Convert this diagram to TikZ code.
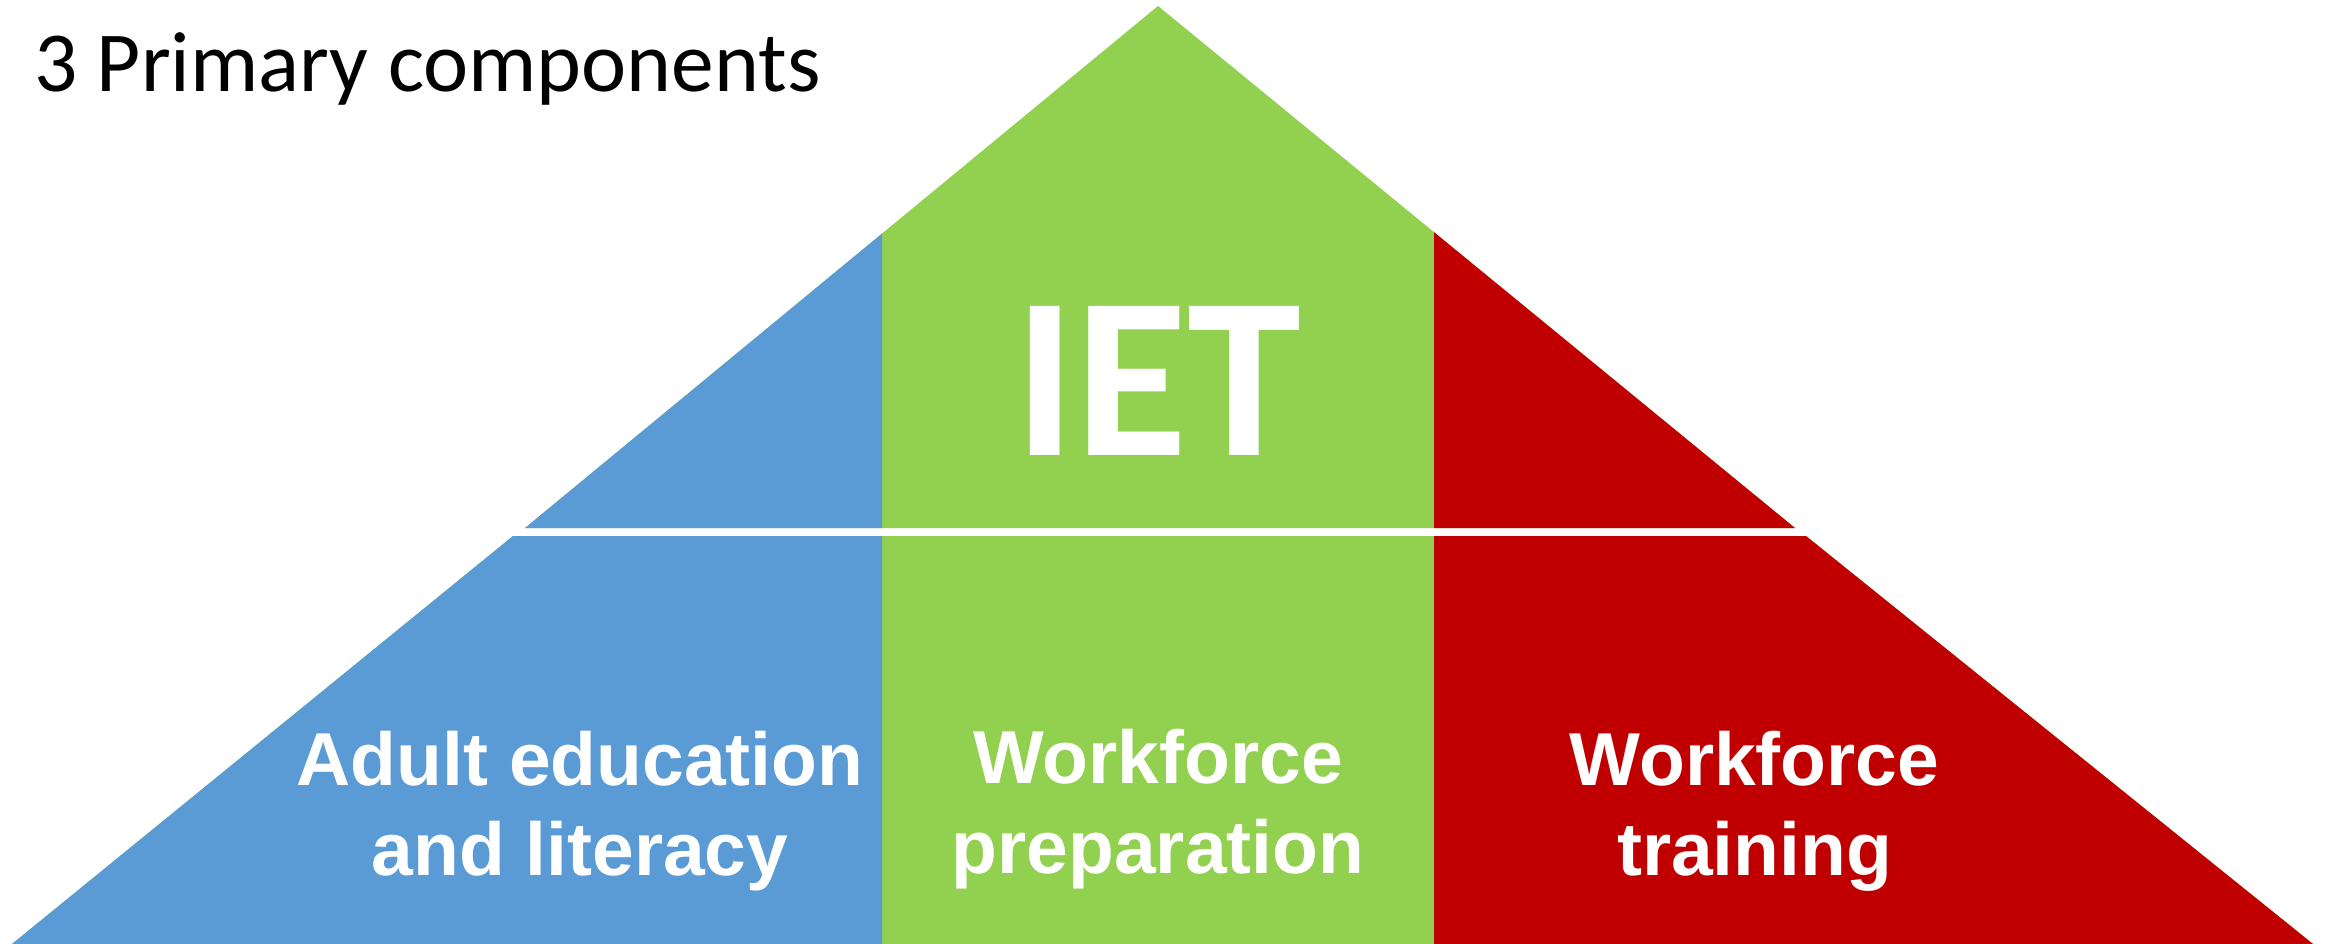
\documentclass[tikz,border=0pt]{standalone}
\usepackage{fontspec}
\setmainfont{Carlito}
\newfontfamily\labfont{Liberation Sans}
\definecolor{tblue}{HTML}{5B9BD5}
\definecolor{tgreen}{HTML}{92D050}
\definecolor{tred}{HTML}{C00000}
\begin{document}
\begin{tikzpicture}[x=1pt,y=-1pt,
  titletext/.style={anchor=base west,inner sep=0pt,text=black,font=\fontsize{85.5}{100}\selectfont},
  iettext/.style={anchor=base,inner sep=0pt,text=white,font=\bfseries\fontsize{230}{260}\selectfont},
  lbl/.style={anchor=base,align=center,inner sep=0pt,text=white,font=\labfont\bfseries\fontsize{75}{90}\selectfont}]
\fill[white] (0,0) rectangle (2325,944);
\useasboundingbox (0,0) rectangle (2325,944);
% geometry
\coordinate (apex) at (1158,6);
\coordinate (ul) at (525,528);
\coordinate (ur) at (1795,528);
\coordinate (tl) at (513,536);
\coordinate (tr) at (1806,536);
\coordinate (bl) at (12,944);
\coordinate (br) at (2313,944);
% green everywhere
\fill[tgreen] (apex) -- (ur) -- (ul) -- cycle;
\fill[tgreen] (tl) -- (tr) -- (br) -- (bl) -- cycle;
% blue column
\begin{scope}
  \clip (0,0) rectangle (882,944);
  \fill[tblue] (apex) -- (ur) -- (ul) -- cycle;
  \fill[tblue] (tl) -- (tr) -- (br) -- (bl) -- cycle;
\end{scope}
% red column
\begin{scope}
  \clip (1434,0) rectangle (2325,944);
  \fill[tred] (apex) -- (ur) -- (ul) -- cycle;
  \fill[tred] (tl) -- (tr) -- (br) -- (bl) -- cycle;
\end{scope}
% texts (anchor=base is the baseline of the last line)
\node[titletext] (title) at (34,92) {3 Primary components};
\node[iettext] (iet) at (1158,455) {IET};
\node[lbl] (adult) at (580,875) {Adult education\\and literacy};
\node[lbl] (prep) at (1158,873) {Workforce\\preparation};
\node[lbl] (train) at (1754.5,875) {Workforce\\training};
\end{tikzpicture}
\end{document}
